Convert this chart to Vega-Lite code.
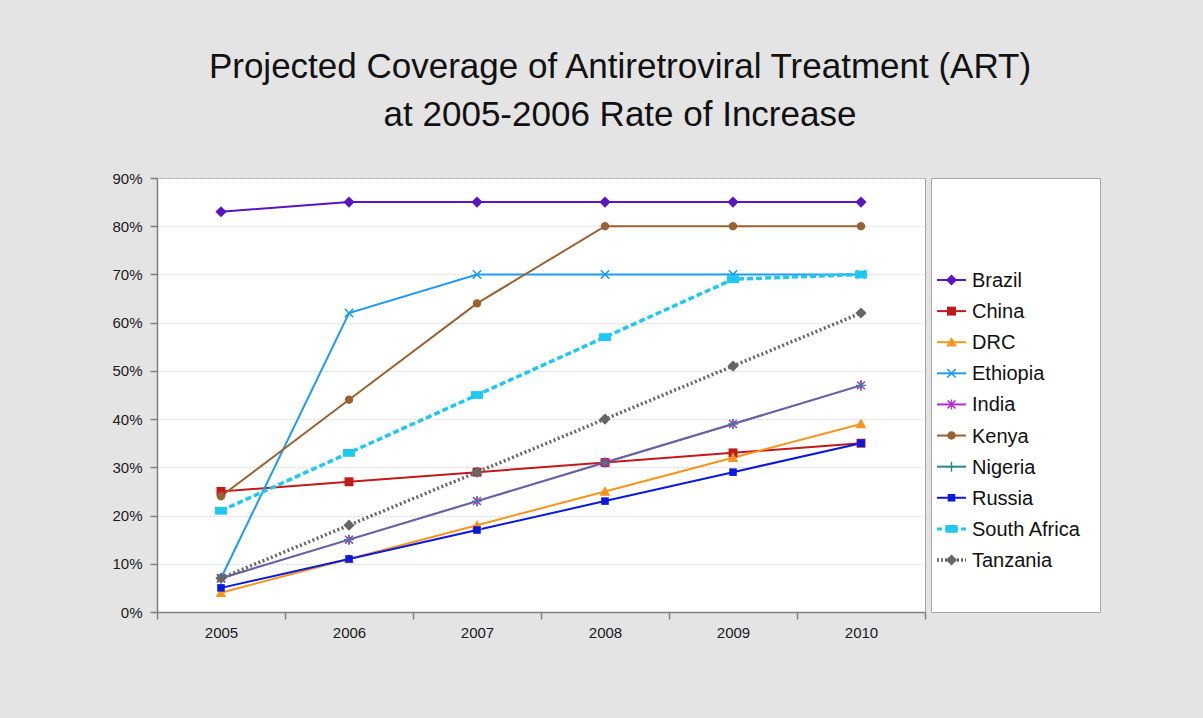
{
  "$schema": "https://vega.github.io/schema/vega-lite/v6.json",
  "padding": {"left": 111, "top": 49, "right": 103, "bottom": 80},
  "background": "#e4e4e4",
  "title": {
    "text": ["Projected Coverage of Antiretroviral Treatment (ART)", "at 2005-2006 Rate of Increase"],
    "font": "Liberation Sans", "fontSize": 35, "fontWeight": "normal", "color": "#111111",
    "lineHeight": 48, "anchor": "start", "align": "center", "frame": "group", "offset": 38, "dx": 463
  },
  "config": {
    "view": {"fill": "white", "stroke": "#a6a6a6", "strokeWidth": 1},
    "axis": {"labelFont": "Liberation Sans", "labelFontSize": 15, "labelColor": "#1a1a1a", "tickColor": "#7f7f7f", "domainColor": "#7f7f7f", "domainWidth": 1.5, "tickWidth": 1.5}
  },
  "data": {"values": [
    {"country": "Brazil", "year": "2005", "coverage": 0.83},
    {"country": "Brazil", "year": "2006", "coverage": 0.85},
    {"country": "Brazil", "year": "2007", "coverage": 0.85},
    {"country": "Brazil", "year": "2008", "coverage": 0.85},
    {"country": "Brazil", "year": "2009", "coverage": 0.85},
    {"country": "Brazil", "year": "2010", "coverage": 0.85},
    {"country": "China", "year": "2005", "coverage": 0.25},
    {"country": "China", "year": "2006", "coverage": 0.27},
    {"country": "China", "year": "2007", "coverage": 0.29},
    {"country": "China", "year": "2008", "coverage": 0.31},
    {"country": "China", "year": "2009", "coverage": 0.33},
    {"country": "China", "year": "2010", "coverage": 0.35},
    {"country": "DRC", "year": "2005", "coverage": 0.04},
    {"country": "DRC", "year": "2006", "coverage": 0.11},
    {"country": "DRC", "year": "2007", "coverage": 0.18},
    {"country": "DRC", "year": "2008", "coverage": 0.25},
    {"country": "DRC", "year": "2009", "coverage": 0.32},
    {"country": "DRC", "year": "2010", "coverage": 0.39},
    {"country": "Ethiopia", "year": "2005", "coverage": 0.07},
    {"country": "Ethiopia", "year": "2006", "coverage": 0.62},
    {"country": "Ethiopia", "year": "2007", "coverage": 0.70},
    {"country": "Ethiopia", "year": "2008", "coverage": 0.70},
    {"country": "Ethiopia", "year": "2009", "coverage": 0.70},
    {"country": "Ethiopia", "year": "2010", "coverage": 0.70},
    {"country": "India", "year": "2005", "coverage": 0.07},
    {"country": "India", "year": "2006", "coverage": 0.15},
    {"country": "India", "year": "2007", "coverage": 0.23},
    {"country": "India", "year": "2008", "coverage": 0.31},
    {"country": "India", "year": "2009", "coverage": 0.39},
    {"country": "India", "year": "2010", "coverage": 0.47},
    {"country": "Kenya", "year": "2005", "coverage": 0.24},
    {"country": "Kenya", "year": "2006", "coverage": 0.44},
    {"country": "Kenya", "year": "2007", "coverage": 0.64},
    {"country": "Kenya", "year": "2008", "coverage": 0.80},
    {"country": "Kenya", "year": "2009", "coverage": 0.80},
    {"country": "Kenya", "year": "2010", "coverage": 0.80},
    {"country": "Nigeria", "year": "2005", "coverage": 0.07},
    {"country": "Nigeria", "year": "2006", "coverage": 0.15},
    {"country": "Nigeria", "year": "2007", "coverage": 0.23},
    {"country": "Nigeria", "year": "2008", "coverage": 0.31},
    {"country": "Nigeria", "year": "2009", "coverage": 0.39},
    {"country": "Nigeria", "year": "2010", "coverage": 0.47},
    {"country": "Russia", "year": "2005", "coverage": 0.05},
    {"country": "Russia", "year": "2006", "coverage": 0.11},
    {"country": "Russia", "year": "2007", "coverage": 0.17},
    {"country": "Russia", "year": "2008", "coverage": 0.23},
    {"country": "Russia", "year": "2009", "coverage": 0.29},
    {"country": "Russia", "year": "2010", "coverage": 0.35},
    {"country": "South Africa", "year": "2005", "coverage": 0.21},
    {"country": "South Africa", "year": "2006", "coverage": 0.33},
    {"country": "South Africa", "year": "2007", "coverage": 0.45},
    {"country": "South Africa", "year": "2008", "coverage": 0.57},
    {"country": "South Africa", "year": "2009", "coverage": 0.69},
    {"country": "South Africa", "year": "2010", "coverage": 0.70},
    {"country": "Tanzania", "year": "2005", "coverage": 0.07},
    {"country": "Tanzania", "year": "2006", "coverage": 0.18},
    {"country": "Tanzania", "year": "2007", "coverage": 0.29},
    {"country": "Tanzania", "year": "2008", "coverage": 0.40},
    {"country": "Tanzania", "year": "2009", "coverage": 0.51},
    {"country": "Tanzania", "year": "2010", "coverage": 0.62}
  ]},
  "bounds": "flush",
  "spacing": 6,
  "hconcat": [
    {
      "width": 768,
      "height": 434,
      "encoding": {
        "x": {
          "field": "year", "type": "ordinal", "bandPosition": 0.5,
          "scale": {"type": "band", "paddingInner": 0, "paddingOuter": 0},
          "axis": {"title": null, "labelAngle": 0, "tickBand": "extent", "grid": false, "tickSize": 7, "labelPadding": 6, "domain": true}
        },
        "y": {
          "field": "coverage", "type": "quantitative",
          "scale": {"domain": [0, 0.9], "nice": false},
          "axis": {"title": null, "values": [0, 0.1, 0.2, 0.3, 0.4, 0.5, 0.6, 0.7, 0.8, 0.9], "format": ".0%", "tickSize": 7, "labelPadding": 8, "grid": true, "gridColor": "#d4d4d4", "gridDash": [2, 2], "gridWidth": 1, "domain": true}
        },
        "color": {
          "field": "country", "type": "nominal", "legend": null,
          "scale": {
            "domain": ["Brazil", "China", "DRC", "Ethiopia", "India", "Kenya", "Nigeria", "Russia", "South Africa", "Tanzania"],
            "range": ["#5a14c2", "#c01a1a", "#f7941d", "#1e9cf0", "#b030d0", "#9a6230", "#2a8a8a", "#0a18e0", "#1ec8f0", "#666666"]
          }
        }
      },
      "layer": [
        {
          "transform": [{"filter": {"not": {"field": "country", "oneOf": ["Nigeria", "South Africa", "Tanzania"]}}}],
          "mark": {"type": "line", "strokeWidth": 2}
        },
        {
          "transform": [{"filter": {"field": "country", "oneOf": ["Nigeria"]}}],
          "mark": {"type": "line", "strokeWidth": 2, "opacity": 0.6}
        },
        {
          "transform": [{"filter": {"field": "country", "oneOf": ["South Africa"]}}],
          "mark": {"type": "line", "strokeWidth": 3.5, "strokeDash": [6, 3]}
        },
        {
          "transform": [{"filter": {"field": "country", "oneOf": ["Tanzania"]}}],
          "mark": {"type": "line", "strokeWidth": 3.5, "strokeDash": [2, 2.5]}
        },
        {
          "mark": {"type": "point", "filled": true, "opacity": 1, "size": 784},
          "encoding": {
            "shape": {
              "field": "country", "type": "nominal", "legend": null,
              "scale": {
                "domain": ["Brazil", "China", "DRC", "Ethiopia", "India", "Kenya", "Nigeria", "Russia", "South Africa", "Tanzania"],
                "range": [
                  "M0,-0.4L0.4,0L0,0.4L-0.4,0Z",
                  "M-0.32,-0.32L0.32,-0.32L0.32,0.32L-0.32,0.32Z",
                  "M0,-0.38L0.38,0.3L-0.38,0.3Z",
                  "M-0.34,-0.26L-0.26,-0.34L0,-0.08L0.26,-0.34L0.34,-0.26L0.08,0L0.34,0.26L0.26,0.34L0,0.08L-0.26,0.34L-0.34,0.26L-0.08,0Z",
                  "M-0.32,-0.24L-0.24,-0.32L0,-0.08L0.24,-0.32L0.32,-0.24L0.08,0L0.32,0.24L0.24,0.32L0,0.08L-0.24,0.32L-0.32,0.24L-0.08,0ZM-0.05,-0.36L0.05,-0.36L0.05,0.36L-0.05,0.36Z",
                  "M-0.3,0A0.3,0.3,0,1,0,0.3,0A0.3,0.3,0,1,0,-0.3,0Z",
                  "M-0.05,-0.36L0.05,-0.36L0.05,-0.05L0.36,-0.05L0.36,0.05L0.05,0.05L0.05,0.36L-0.05,0.36L-0.05,0.05L-0.36,0.05L-0.36,-0.05L-0.05,-0.05Z",
                  "M-0.27,-0.27L0.27,-0.27L0.27,0.27L-0.27,0.27Z",
                  "M-0.43,-0.28L0.43,-0.28L0.43,0.28L-0.43,0.28Z",
                  "M0,-0.4L0.4,0L0,0.4L-0.4,0Z"
                ]
              }
            }
          }
        }
      ]
    },
    {
      "width": 169,
      "height": 434,
      "transform": [{"filter": {"field": "year", "equal": "2005"}}],
      "encoding": {
        "y": {
          "field": "country", "type": "nominal", "axis": null,
          "scale": {"type": "point", "padding": 0, "range": [102, 382],
            "domain": ["Brazil", "China", "DRC", "Ethiopia", "India", "Kenya", "Nigeria", "Russia", "South Africa", "Tanzania"]}
        },
        "color": {"field": "country", "type": "nominal", "legend": null}
      },
      "layer": [
        {
          "transform": [{"filter": {"not": {"field": "country", "oneOf": ["South Africa", "Tanzania"]}}}],
          "mark": {"type": "rule", "strokeWidth": 2},
          "encoding": {
            "x": {"datum": 6, "type": "quantitative", "scale": {"domain": [0, 169], "nice": false, "zero": false}, "axis": null},
            "x2": {"datum": 35}
          }
        },
        {
          "transform": [{"filter": {"field": "country", "oneOf": ["South Africa"]}}],
          "mark": {"type": "rule", "strokeWidth": 3, "strokeDash": [5, 3]},
          "encoding": {
            "x": {"datum": 6, "type": "quantitative", "scale": {"domain": [0, 169], "nice": false, "zero": false}, "axis": null},
            "x2": {"datum": 35}
          }
        },
        {
          "transform": [{"filter": {"field": "country", "oneOf": ["Tanzania"]}}],
          "mark": {"type": "rule", "strokeWidth": 3.5, "strokeDash": [2, 2]},
          "encoding": {
            "x": {"datum": 6, "type": "quantitative", "scale": {"domain": [0, 169], "nice": false, "zero": false}, "axis": null},
            "x2": {"datum": 35}
          }
        },
        {
          "mark": {"type": "point", "filled": true, "opacity": 1, "size": 784},
          "encoding": {
            "x": {"datum": 20.5, "type": "quantitative", "scale": {"domain": [0, 169], "nice": false, "zero": false}, "axis": null},
            "shape": {"field": "country", "type": "nominal", "legend": null}
          }
        },
        {
          "mark": {"type": "text", "align": "left", "baseline": "middle", "font": "Liberation Sans", "fontSize": 20, "color": "#111111", "dy": 1},
          "encoding": {
            "x": {"datum": 41, "type": "quantitative", "scale": {"domain": [0, 169], "nice": false, "zero": false}, "axis": null},
            "text": {"field": "country"},
            "color": {"value": "#111111"}
          }
        }
      ]
    }
  ]
}
